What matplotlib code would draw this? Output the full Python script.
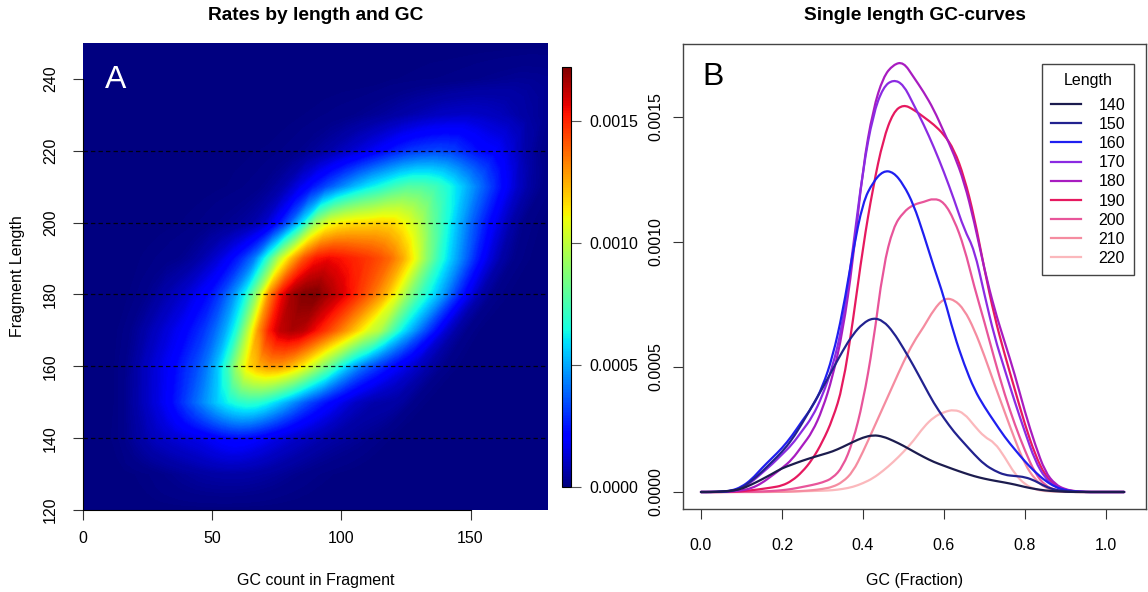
import matplotlib
matplotlib.use("Agg")
import matplotlib.pyplot as plt
import numpy as np
from matplotlib.colors import Normalize
from matplotlib.cm import ScalarMappable
from matplotlib.path import Path
from matplotlib.patches import PathPatch
from matplotlib.lines import Line2D

plt.rcParams['font.family'] = ['Liberation Sans', 'DejaVu Sans']

# ---------------- data (rates in units of 1e-4) ----------------
GC_FRACTION = [0.000, 0.025, 0.050, 0.075, 0.100, 0.125, 0.150, 0.175, 0.200, 0.225,
               0.250, 0.275, 0.300, 0.325, 0.350, 0.375, 0.400, 0.425, 0.450, 0.475,
               0.500, 0.525, 0.550, 0.575, 0.600, 0.625, 0.650, 0.675, 0.700, 0.725,
               0.750, 0.775, 0.800, 0.825, 0.850, 0.875, 0.900, 0.925, 0.950, 0.975,
               1.000, 1.025, 1.045]
LENGTHS = [140, 150, 160, 170, 180, 190, 200, 210, 220]
RATE_UNIT = 1e-4

RATE_140 = [0, 0, 0.02, 0.05, 0.12, 0.3, 0.5, 0.72, 0.95, 1.1, 1.25, 1.38, 1.5, 1.62, 1.8,
            2.0, 2.18, 2.28, 2.22, 2.05, 1.85, 1.62, 1.4, 1.2, 1.05, 0.9, 0.76, 0.63, 0.53,
            0.45, 0.38, 0.3, 0.2, 0.12, 0.06, 0.03, 0.01, 0, 0, 0, 0, 0, 0]
RATE_150 = [0, 0, 0.01, 0.03, 0.15, 0.45, 0.8, 1.2, 1.6, 2.1, 2.75, 3.45, 4.15, 4.9, 5.65,
            6.3, 6.75, 6.97, 6.85, 6.4, 5.75, 5.05, 4.3, 3.55, 2.95, 2.4, 1.95, 1.5, 1.1,
            0.85, 0.68, 0.64, 0.6, 0.45, 0.22, 0.08, 0.03, 0.01, 0, 0, 0, 0, 0]
RATE_160 = [0, 0, 0.01, 0.05, 0.2, 0.5, 0.95, 1.35, 1.75, 2.25, 2.85, 3.4, 4.2, 5.4, 7.2,
            9.6, 11.6, 12.4, 12.85, 12.8, 12.3, 11.5, 10.3, 9.0, 7.8, 6.3, 5.1, 4.1, 3.4,
            2.8, 2.2, 1.7, 1.22, 0.8, 0.45, 0.2, 0.07, 0.02, 0, 0, 0, 0, 0]
RATE_170 = [0, 0, 0.01, 0.04, 0.15, 0.4, 0.75, 1.1, 1.5, 1.9, 2.45, 3.0, 3.85, 5.0, 6.7,
            9.7, 12.9, 15.1, 16.2, 16.5, 16.3, 15.5, 14.7, 13.8, 12.8, 11.7, 10.5, 9.7, 7.9,
            6.2, 4.9, 3.6, 2.4, 1.25, 0.55, 0.2, 0.06, 0.02, 0, 0, 0, 0, 0]
RATE_180 = [0, 0, 0, 0.02, 0.06, 0.15, 0.35, 0.65, 0.95, 1.3, 1.85, 2.4, 3.3, 4.6, 6.4,
            9.2, 13.0, 15.3, 16.6, 17.1, 17.2, 16.6, 16.0, 15.3, 14.4, 13.5, 12.4, 10.8, 8.9,
            7.3, 6.0, 4.7, 3.2, 1.9, 0.8, 0.3, 0.1, 0.03, 0, 0, 0, 0, 0]
RATE_190 = [0, 0, 0, 0.01, 0.03, 0.07, 0.12, 0.18, 0.25, 0.45, 0.8, 1.3, 2.0, 2.9, 4.2,
            6.8, 9.8, 12.2, 14.1, 15.2, 15.5, 15.3, 15.0, 14.7, 14.3, 13.7, 12.6, 11.0, 8.9,
            7.0, 5.5, 4.1, 2.7, 1.5, 0.65, 0.25, 0.08, 0.02, 0, 0, 0, 0, 0]
RATE_200 = [0, 0, 0, 0, 0.01, 0.01, 0.02, 0.04, 0.07, 0.12, 0.2, 0.28, 0.38, 0.55, 1.0,
            2.0, 3.6, 5.9, 9.0, 10.6, 11.2, 11.5, 11.6, 11.75, 11.6, 10.9, 9.8, 8.2, 6.8,
            5.3, 3.9, 2.7, 1.65, 0.75, 0.25, 0.08, 0.02, 0, 0, 0, 0, 0, 0]
RATE_210 = [0, 0, 0, 0, 0, 0, 0, 0.01, 0.01, 0.02, 0.04, 0.07, 0.12, 0.2, 0.4,
            0.8, 1.6, 2.5, 3.4, 4.3, 5.2, 6.0, 6.6, 7.3, 7.75, 7.7, 7.3, 6.5, 5.45,
            4.3, 3.2, 2.1, 1.1, 0.5, 0.17, 0.06, 0.02, 0, 0, 0, 0, 0, 0]
RATE_220 = [0, 0, 0, 0, 0, 0, 0, 0, 0.01, 0.02, 0.03, 0.04, 0.05, 0.07, 0.12,
            0.2, 0.35, 0.55, 0.85, 1.2, 1.6, 2.05, 2.6, 3.0, 3.2, 3.3, 3.15, 2.65, 2.2,
            1.98, 1.4, 0.72, 0.3, 0.1, 0.03, 0.01, 0, 0, 0, 0, 0, 0, 0]

# extra heat-map rows (outside the plotted curves), same GC_FRACTION grid
HEAT_LENGTHS = [120, 130, 140, 150, 160, 170, 180, 190, 200, 210, 220, 230, 240, 250]
HEAT_120 = [0] * 43
HEAT_130 = [0, 0, 0, 0, 0.01, 0.03, 0.05, 0.08, 0.12, 0.18, 0.25, 0.31, 0.38, 0.44, 0.5,
            0.54, 0.57, 0.59, 0.6, 0.59, 0.57, 0.53, 0.48, 0.42, 0.35, 0.28, 0.22, 0.17,
            0.12, 0.08, 0.05, 0.03, 0.02, 0.01, 0, 0, 0, 0, 0, 0, 0, 0, 0]
HEAT_230 = [0, 0, 0, 0, 0, 0, 0, 0, 0, 0, 0, 0, 0, 0, 0.03, 0.06, 0.1, 0.15, 0.2, 0.3,
            0.4, 0.55, 0.7, 0.85, 1.0, 1.07, 1.1, 1.02, 0.9, 0.7, 0.5, 0.33, 0.2, 0.1,
            0.05, 0.02, 0, 0, 0, 0, 0, 0, 0]
HEAT_240 = [0, 0, 0, 0, 0, 0, 0, 0, 0, 0, 0, 0, 0, 0, 0, 0, 0, 0, 0, 0, 0.05, 0.07,
            0.1, 0.12, 0.15, 0.2, 0.25, 0.3, 0.35, 0.34, 0.3, 0.2, 0.1, 0.05, 0, 0, 0, 0,
            0, 0, 0, 0, 0]
HEAT_250 = [0] * 43

CURVE_COLORS = ['#1c1c4e', '#22228f', '#1f1ff0', '#8b2be2', '#a81cc0',
                '#e6195f', '#e8559a', '#f58ca0', '#fbb8bc']

X_TICKS_L = [0, 50, 100, 150]
Y_TICKS_L = [120, 140, 160, 180, 200, 220, 240]
X_TICKS_R = [0.0, 0.2, 0.4, 0.6, 0.8, 1.0]
Y_TICKS_R = [0.0, 0.0005, 0.0010, 0.0015]

# ---------------- figure ----------------
W, H = 1148, 592
fig = plt.figure(figsize=(W / 100, H / 100), dpi=100)


def fx(px):
    return px / W


def fy(py):
    return 1 - py / H


def smooth_path(xs, ys):
    """Quadratic-Bezier rendering path through the data polyline."""
    pts = np.column_stack([xs, ys])
    mids = (pts[:-1] + pts[1:]) / 2
    verts = [pts[0], mids[0]]
    codes = [Path.MOVETO, Path.LINETO]
    for i in range(1, len(pts) - 1):
        verts += [pts[i], mids[i]]
        codes += [Path.CURVE3, Path.CURVE3]
    verts.append(pts[-1])
    codes.append(Path.LINETO)
    return Path(verts, codes)


BASE = 11.5
curves = [RATE_140, RATE_150, RATE_160, RATE_170, RATE_180,
          RATE_190, RATE_200, RATE_210, RATE_220]
heat_rows = [HEAT_120, HEAT_130] + curves + [HEAT_230, HEAT_240, HEAT_250]

F = np.array(GC_FRACTION)
Lh = np.array(HEAT_LENGTHS, dtype=float)
C = np.array(heat_rows, dtype=float) * RATE_UNIT
X = np.outer(Lh, F)
Y = np.repeat(Lh[:, None], len(F), axis=1)
vmax = C.max()
cmap = plt.get_cmap('jet')

# ---- left panel ----
axL = fig.add_axes([fx(83), fy(510), fx(548) - fx(83), fy(43) - fy(510)])
axL.set_facecolor(cmap(0.0))
axL.contourf(X, Y, C, levels=np.linspace(0, vmax, 300), cmap=cmap,
             vmin=0, vmax=vmax, antialiased=False)
for L in LENGTHS[::2]:
    axL.axhline(L, color='black', lw=0.9, ls=(0, (3.5, 2.5)), alpha=0.85)
axL.set_xlim(0, 180)
axL.set_ylim(120, 250)
axL.set_xticks(X_TICKS_L)
axL.set_xticklabels([str(v) for v in X_TICKS_L])
axL.set_yticks(Y_TICKS_L)
axL.set_yticklabels([str(v) for v in Y_TICKS_L], rotation=90, va='center')
for s in ['top', 'right']:
    axL.spines[s].set_visible(False)
axL.spines['left'].set_bounds(120, 240)
axL.spines['bottom'].set_bounds(0, 150)
axL.text(0.047, 0.921, 'A', transform=axL.transAxes, color='white',
         fontsize=23, ha='left', va='center')

# ---- colorbar ----
cax = fig.add_axes([fx(562), fy(487), fx(571) - fx(562), fy(67) - fy(487)])
sm = ScalarMappable(norm=Normalize(0, vmax), cmap=cmap)
cb = fig.colorbar(sm, cax=cax, ticks=Y_TICKS_R)
cb.ax.set_yticklabels(['%.4f' % v for v in Y_TICKS_R])
cb.outline.set_linewidth(0.8)
cb.ax.tick_params(length=7, width=0.8, color='#555555', pad=6, labelsize=BASE)

# ---- right panel ----
axR = fig.add_axes([fx(683), fy(509), fx(1146) - fx(683), fy(44) - fy(509)])
for i in reversed(range(len(LENGTHS))):
    vals = np.array(curves[i]) * RATE_UNIT
    patch = PathPatch(smooth_path(F, vals), fill=False, edgecolor=CURVE_COLORS[i],
                      lw=1.6, joinstyle='round', capstyle='round',
                      transform=axR.transData)
    axR.add_patch(patch)
handles = [Line2D([0], [0], color=c, lw=1.6) for c in CURVE_COLORS]
axR.set_xlim(-0.0444, 1.099)
axR.set_ylim(-0.000068, 0.001792)
axR.set_xticks(X_TICKS_R)
axR.set_xticklabels(['%.1f' % v for v in X_TICKS_R])
axR.set_yticks(Y_TICKS_R)
axR.set_yticklabels(['%.4f' % v for v in Y_TICKS_R], rotation=90, va='center')
for s in axR.spines.values():
    s.set_color('#444444')
    s.set_linewidth(1.0)
axR.text(0.041, 0.929, 'B', transform=axR.transAxes, color='black',
         fontsize=23, ha='left', va='center')
leg = axR.legend(handles, [str(L) for L in LENGTHS], title='Length',
                 loc='upper right', bbox_to_anchor=(0.974, 0.957),
                 borderaxespad=0, fontsize=BASE, title_fontsize=BASE,
                 handlelength=1.9, handletextpad=1.1, labelspacing=0.26,
                 borderpad=0.55, fancybox=False, framealpha=1)
leg.get_frame().set_edgecolor('#444444')
leg.get_frame().set_linewidth(1.0)
try:
    leg._legend_box.sep = 7.2
except Exception:
    pass

axL.tick_params(direction='out', length=7, width=0.8, color='#333333',
                labelsize=BASE)
axL.tick_params(axis='x', pad=8)
axL.tick_params(axis='y', pad=11)
axR.tick_params(direction='out', length=7, width=0.8, color='#333333',
                labelsize=BASE)
axR.tick_params(axis='x', pad=14)
axR.tick_params(axis='y', pad=7)

# ---- titles and axis labels ----
fig.text(fx(315.5), fy(15), 'Rates by length and GC', ha='center', va='center',
         fontsize=13.8, fontweight='bold')
fig.text(fx(914.5), fy(15), 'Single length GC-curves', ha='center', va='center',
         fontsize=13.8, fontweight='bold')
fig.text(fx(315.5), fy(580), 'GC count in Fragment', ha='center', va='center',
         fontsize=BASE)
fig.text(fx(914.5), fy(580), 'GC (Fraction)', ha='center', va='center',
         fontsize=BASE)
fig.text(fx(18), fy(276.5), 'Fragment Length', ha='center', va='center',
         rotation=90, fontsize=BASE)

fig.savefig('out.png', dpi=100)
